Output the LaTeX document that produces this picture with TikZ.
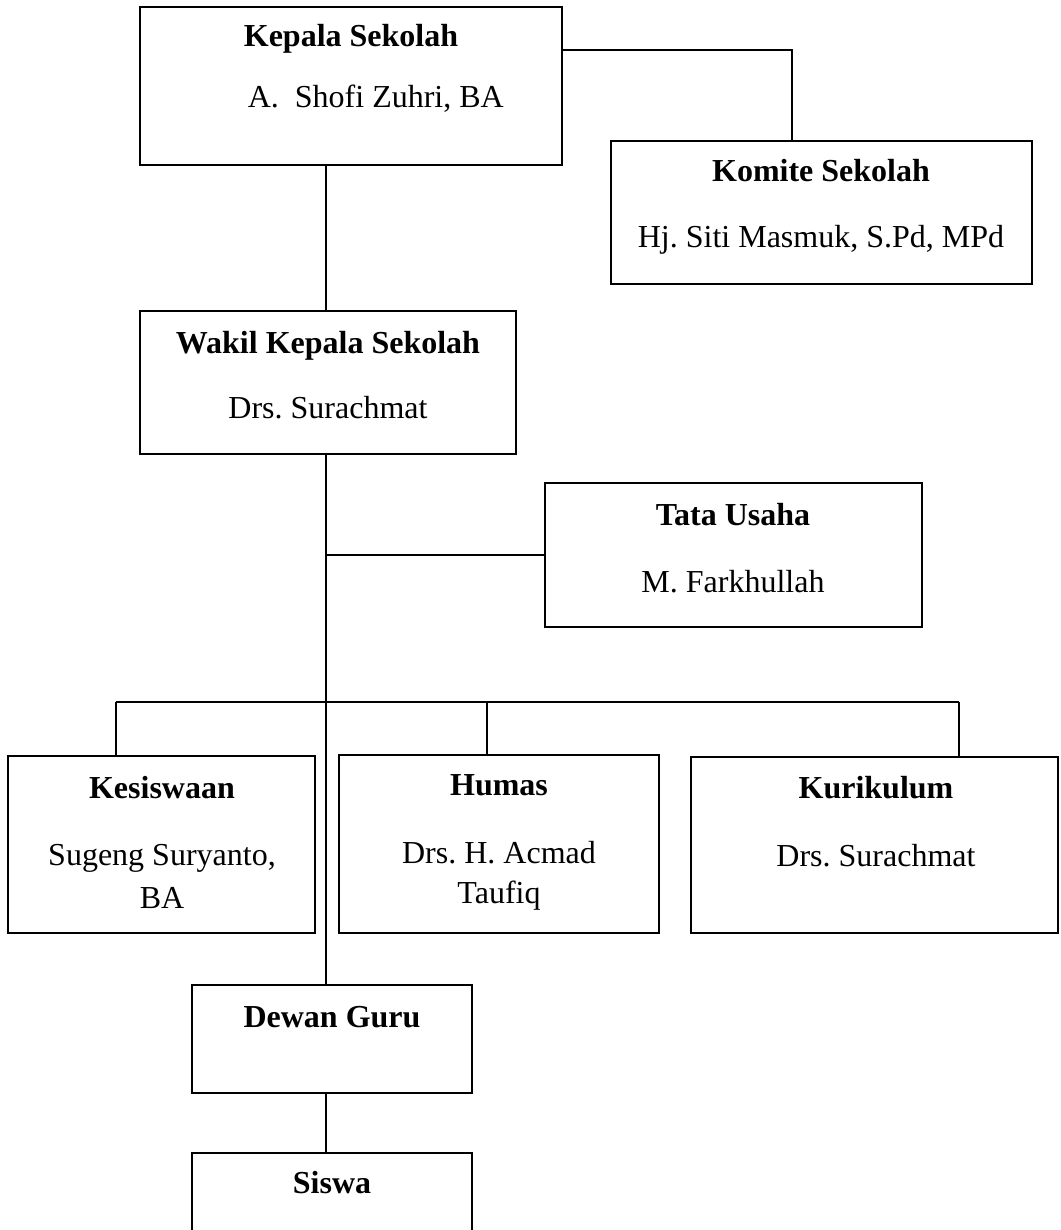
\documentclass[tikz,border=0pt]{standalone}
\usepackage{fontspec}
\setmainfont{Liberation Serif}
\frenchspacing
\begin{document}
\begin{tikzpicture}[x=1pt,y=-1pt,line width=1.6pt,
  box/.style={draw,line width=1.6pt,inner sep=0pt,outer sep=0pt,anchor=north west},
  ttl/.style={font=\fontsize{32}{38}\selectfont\bfseries,anchor=base,inner sep=0pt},
  nm/.style={font=\fontsize{32}{38}\selectfont,anchor=base,inner sep=0pt}]
\useasboundingbox (0,0) rectangle (1060,1230);
\clip (0,0) rectangle (1060,1230);
% boxes
\node[box,minimum width=422pt,minimum height=158pt] (kep) at (140,7) {};
\node[box,minimum width=421pt,minimum height=143pt] (kom) at (611,141) {};
\node[box,minimum width=376pt,minimum height=143pt] (wak) at (140,311) {};
\node[box,minimum width=377pt,minimum height=144pt] (tata) at (545,483) {};
\node[box,minimum width=307pt,minimum height=177pt] (kes) at (8,756) {};
\node[box,minimum width=320pt,minimum height=178pt] (hum) at (339,755) {};
\node[box,minimum width=367pt,minimum height=176pt] (kur) at (691,757) {};
\node[box,minimum width=280pt,minimum height=108pt] (dew) at (192,985) {};
\node[box,minimum width=280pt,minimum height=110pt] (sis) at (192,1153) {};
% texts
\node[ttl] (kepT) at (351,47) {Kepala Sekolah};
\node[nm,anchor=base west] (kepN) at (247,108) {A.\ \ Shofi Zuhri, BA};
\node[ttl] (komT) at (821,182) {Komite Sekolah};
\node[nm] (komN) at (821,248) {Hj. Siti Masmuk, S.Pd, MPd};
\node[ttl] (wakT) at (328,353) {Wakil Kepala Sekolah};
\node[nm] (wakN) at (328,418) {Drs. Surachmat};
\node[ttl] (tataT) at (733,525) {Tata Usaha};
\node[nm] (tataN) at (733,592) {M. Farkhullah};
\node[ttl] (kesT) at (162,798) {Kesiswaan};
\node[nm] (kesN1) at (162,865) {Sugeng Suryanto,};
\node[nm] (kesN2) at (162,908) {BA};
\node[ttl] (humT) at (499,795) {Humas};
\node[nm] (humN1) at (499,863) {Drs. H. Acmad};
\node[nm] (humN2) at (499,903) {Taufiq};
\node[ttl] (kurT) at (876,798) {Kurikulum};
\node[nm] (kurN) at (876,866) {Drs. Surachmat};
\node[ttl] (dewT) at (332,1027) {Dewan Guru};
\node[ttl] (sisT) at (332,1193) {Siswa};
% connectors
\coordinate (k1) at (792,50);
\coordinate (m) at (326,0);
\coordinate (bl) at (116,702);
\coordinate (bh) at (487,702);
\coordinate (br) at (959,702);
\draw (kep.east |- k1) -- (k1) -- (k1 |- kom.north);
\draw (m |- kep.south) -- (m |- wak.north);
\draw (m |- wak.south) -- (m |- dew.north);
\draw (m |- dew.south) -- (m |- sis.north);
\draw (m |- tata.west) -- (tata.west);
\draw (bl) -- (br);
\draw (bl) -- (bl |- kes.north);
\draw (bh) -- (bh |- hum.north);
\draw (br) -- (br |- kur.north);
\end{tikzpicture}
\end{document}
